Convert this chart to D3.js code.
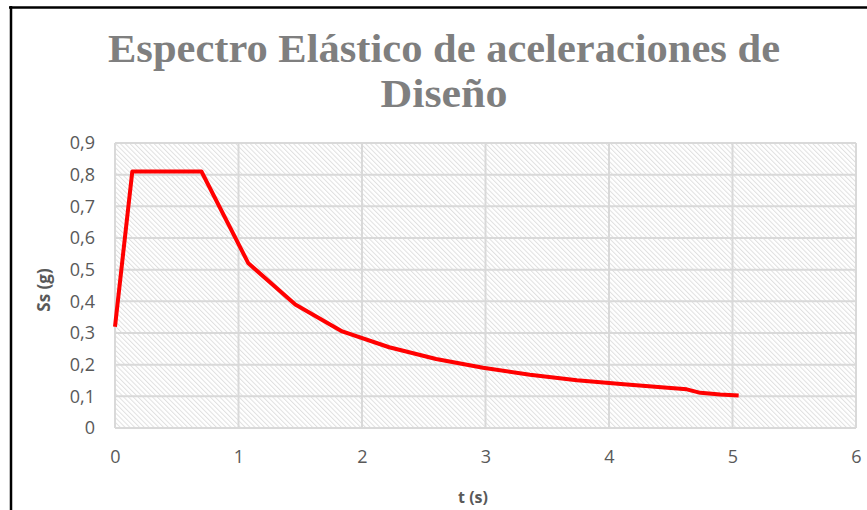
<!DOCTYPE html>
<html>
<head>
<meta charset="utf-8">
<script src="https://cdn.jsdelivr.net/npm/d3@7"></script>
<style>
  html, body { margin: 0; padding: 0; background: #fff; }
  svg { display: block; }
</style>
</head>
<body>
<svg id="chart" width="867" height="510"></svg>
<script>
// Design elastic acceleration spectrum: period t (s) vs spectral acceleration Ss (g)
const periods = [0, 0.14, 0.70, 1.08, 1.46, 1.84, 2.22, 2.60, 2.98, 3.36, 3.74, 4.12, 4.50, 4.63, 4.74, 4.90, 5.05];
const accel   = [0.32, 0.81, 0.81, 0.52, 0.39, 0.305, 0.255, 0.218, 0.19, 0.168, 0.151, 0.138, 0.126, 0.122, 0.111, 0.106, 0.103];
const xTicks = [0, 1, 2, 3, 4, 5, 6];
const yTicks = [0, 0.1, 0.2, 0.3, 0.4, 0.5, 0.6, 0.7, 0.8, 0.9];
const titleLines = ["Espectro Elástico de aceleraciones de", "Diseño"];
const xTitle = "t (s)";
const yTitle = "Ss (g)";

const svg = d3.select("#chart");
const plot = { left: 115, right: 856, top: 143, bottom: 428 };

const x = d3.scaleLinear().domain([0, 6]).range([plot.left, plot.right]);
const y = d3.scaleLinear().domain([0, 0.9]).range([plot.bottom, plot.top]);

// frame lines of the chart object
svg.append("line").attr("x1", 9).attr("x2", 867).attr("y1", 7.5).attr("y2", 7.5)
  .attr("stroke", "#000").attr("stroke-width", 2.5);
svg.append("line").attr("x1", 11).attr("x2", 11).attr("y1", 6).attr("y2", 510)
  .attr("stroke", "#000").attr("stroke-width", 2.5);

// diagonal hatch fill for the plot area
const defs = svg.append("defs");
const pat = defs.append("pattern")
  .attr("id", "hatch")
  .attr("patternUnits", "userSpaceOnUse")
  .attr("width", 3.4).attr("height", 3.4)
  .attr("patternTransform", "rotate(-45)");
pat.append("rect").attr("width", 3.4).attr("height", 3.4).attr("fill", "#fff");
pat.append("line").attr("x1", 0.5).attr("x2", 0.5).attr("y1", 0).attr("y2", 3.4)
  .attr("stroke", "#e0e0e0").attr("stroke-width", 1);

svg.append("rect")
  .attr("x", plot.left).attr("y", plot.top)
  .attr("width", plot.right - plot.left).attr("height", plot.bottom - plot.top)
  .attr("fill", "url(#hatch)");

// gridlines
const grid = svg.append("g").attr("stroke", "#d9d9d9").attr("stroke-width", 2);
grid.selectAll("line.h").data(yTicks).join("line")
  .attr("x1", plot.left).attr("x2", plot.right)
  .attr("y1", d => y(d)).attr("y2", d => y(d));
grid.selectAll("line.v").data(xTicks).join("line")
  .attr("y1", plot.top).attr("y2", plot.bottom)
  .attr("x1", d => x(d)).attr("x2", d => x(d));

// axes (labels only)
const fmt = d => d3.format(".1f")(d).replace(".", ",");
const yAxis = d3.axisLeft(y).tickValues(yTicks).tickSize(0).tickPadding(20)
  .tickFormat(d => d === 0 ? "0" : fmt(d));
const gy = svg.append("g").attr("transform", `translate(${plot.left},0)`).call(yAxis);
gy.select(".domain").remove();
gy.selectAll("text")
  .attr("font-family", "'Open Sans', sans-serif").attr("font-size", 18)
  .attr("fill", "#595959");

const xAxis = d3.axisBottom(x).tickValues(xTicks).tickSize(0).tickPadding(22)
  .tickFormat(d3.format("d"));
const gx = svg.append("g").attr("transform", `translate(0,${plot.bottom})`).call(xAxis);
gx.select(".domain").remove();
gx.selectAll("text")
  .attr("font-family", "'Open Sans', sans-serif").attr("font-size", 18)
  .attr("fill", "#595959");

// axis titles
svg.append("text")
  .attr("x", 473).attr("y", 503)
  .attr("text-anchor", "middle")
  .attr("font-family", "'Open Sans', sans-serif").attr("font-weight", "bold")
  .attr("font-size", 16).attr("fill", "#595959")
  .text(xTitle);
svg.append("text")
  .attr("transform", "translate(50,290) rotate(-90)")
  .attr("text-anchor", "middle")
  .attr("font-family", "'Open Sans', sans-serif").attr("font-weight", "bold")
  .attr("font-size", 17).attr("fill", "#595959")
  .text(yTitle);

// title
const titleCfg = [
  { cx: 444, base: 62, len: 672 },
  { cx: 444, base: 107, len: 127 }
];
svg.selectAll("text.title").data(titleLines).join("text")
  .attr("class", "title")
  .attr("x", (d, i) => titleCfg[i].cx)
  .attr("y", (d, i) => titleCfg[i].base)
  .attr("text-anchor", "middle")
  .attr("textLength", (d, i) => titleCfg[i].len)
  .attr("lengthAdjust", "spacingAndGlyphs")
  .attr("font-family", "'Liberation Serif', 'DejaVu Serif', serif")
  .attr("font-weight", "bold").attr("font-size", 40)
  .attr("fill", "#7f7f7f")
  .text(d => d);

// spectrum line
const pts = periods.map((t, i) => [t, accel[i]]);
const line = d3.line().x(d => x(d[0])).y(d => y(d[1]));
svg.append("path")
  .datum(pts)
  .attr("d", line)
  .attr("fill", "none")
  .attr("stroke", "#ff0000")
  .attr("stroke-width", 4)
  .attr("stroke-linejoin", "round")
  .attr("stroke-linecap", "butt");
</script>
</body>
</html>
